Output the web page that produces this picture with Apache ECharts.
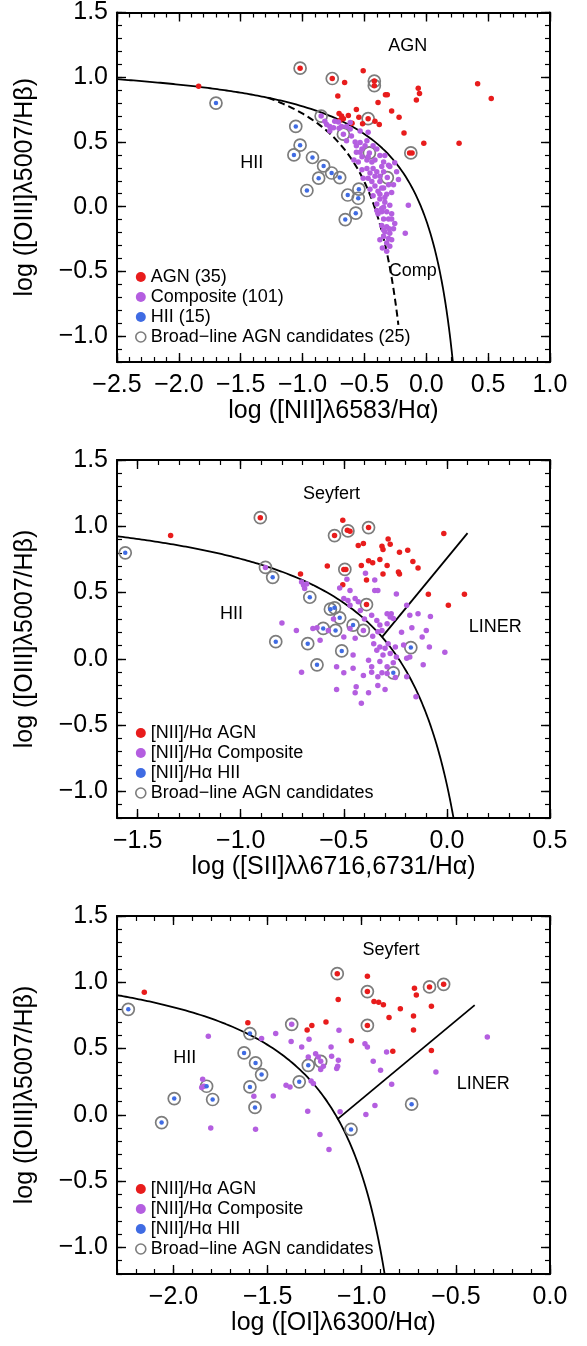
<!DOCTYPE html>
<html>
<head>
<meta charset="utf-8">
<script src="https://cdn.jsdelivr.net/npm/echarts@6/dist/echarts.min.js"></script>
<style>
html, body { margin: 0; padding: 0; background: #fff; }
#chart { width: 587px; height: 1346px; }
</style>
</head>
<body>
<div id="chart"></div>
<script>
// tick labels
const xTicksNII = [-2.5, -2.0, -1.5, -1.0, -0.5, 0.0, 0.5, 1.0]
const xTicksSII = [-1.5, -1.0, -0.5, 0.0, 0.5]
const xTicksOI = [-2.0, -1.5, -1.0, -0.5, 0.0]
const yTicks = [-1.0, -0.5, 0.0, 0.5, 1.0, 1.5]

// demarcation lines: y = a / (x - b) + c  and  y = m x + c
const kewleyNII = [0.61, 0.47, 1.19]
const kauffmannNII = [0.61, 0.05, 1.30]
const kewleySII = [0.72, 0.32, 1.30]
const kewleyOI = [0.73, -0.59, 1.33]
const seyLinerSII = [1.89, 0.76]
const seyLinerOI = [1.18, 1.30]

// ---- panel 1: [NII]/Ha ----
const niiAgn = [[-1.84,0.93],[-1.02,1.07],[-0.76,0.99],[-0.51,1.05],[-0.42,0.97],[-0.42,0.935],[-0.66,0.96],[-0.715,0.855],[-0.33,0.865],[-0.315,0.865],[-0.39,0.805],[-0.565,0.75],[-0.28,0.74],[-0.22,0.69],[-0.705,0.72],[-0.685,0.70],[-0.63,0.705],[-0.67,0.68],[-0.47,0.68],[-0.515,0.64],[-0.415,0.66],[-0.38,0.635],[-0.60,0.645],[-0.18,0.57],[-0.02,0.49],[0.265,0.49],[-0.135,0.415],[-0.115,0.415],[-0.065,0.915],[-0.055,0.875],[-0.08,0.825],[0.415,0.95],[0.525,0.835],[-0.545,0.69],[-0.70,0.665]]
const niiComp = [[-0.85,0.70],[-0.805,0.635],[-0.75,0.61],[-0.71,0.655],[-0.78,0.585],[-0.67,0.56],[-0.705,0.605],[-0.615,0.60],[-0.605,0.545],[-0.645,0.51],[-0.575,0.50],[-0.535,0.495],[-0.495,0.47],[-0.46,0.415],[-0.52,0.445],[-0.48,0.51],[-0.565,0.42],[-0.585,0.36],[-0.55,0.345],[-0.52,0.385],[-0.48,0.36],[-0.415,0.36],[-0.375,0.395],[-0.335,0.395],[-0.255,0.34],[-0.305,0.32],[-0.36,0.31],[-0.43,0.295],[-0.48,0.295],[-0.52,0.285],[-0.455,0.26],[-0.40,0.27],[-0.315,0.225],[-0.225,0.21],[-0.51,0.22],[-0.44,0.195],[-0.375,0.195],[-0.415,0.16],[-0.39,0.12],[-0.345,0.145],[-0.305,0.17],[-0.455,0.135],[-0.32,0.095],[-0.28,0.11],[-0.43,0.085],[-0.375,0.06],[-0.335,0.035],[-0.40,0.02],[-0.145,0.01],[-0.295,0.01],[-0.36,-0.015],[-0.32,-0.04],[-0.28,-0.055],[-0.39,-0.055],[-0.255,-0.13],[-0.345,-0.095],[-0.305,-0.095],[-0.36,-0.145],[-0.32,-0.155],[-0.335,-0.195],[-0.295,-0.205],[-0.17,-0.205],[-0.345,-0.23],[-0.305,-0.245],[-0.32,-0.28],[-0.375,-0.255],[-0.295,-0.305],[-0.36,-0.04],[-0.40,-0.03],[-0.24,0.27],[-0.44,0.345],[-0.47,0.385],[-0.535,0.42],[-0.565,0.47],[-0.645,0.62],[-0.685,0.62],[-0.74,0.66],[-0.82,0.66],[-0.78,0.62],[-0.615,0.65],[-0.535,0.585],[-0.47,0.575],[-0.43,0.47],[-0.40,0.445],[-0.345,0.345],[-0.295,0.31],[-0.375,0.235],[-0.415,0.235],[-0.47,0.22],[-0.345,0.27],[-0.265,0.17],[-0.375,0.095],[-0.36,0.145],[-0.335,0.07],[-0.345,-0.005],[-0.28,-0.095],[-0.265,-0.17],[-0.345,-0.18],[-0.28,-0.255],[-0.32,-0.345],[-0.355,-0.32],[-0.30,-0.17]]
const niiHii = [[-1.70,0.80],[-1.055,0.62],[-1.02,0.475],[-1.07,0.40],[-0.92,0.38],[-0.83,0.315],[-0.87,0.22],[-0.765,0.26],[-0.70,0.225],[-0.965,0.125],[-0.635,0.09],[-0.545,0.135],[-0.55,0.065],[-0.57,-0.05],[-0.655,-0.10]]
const niiBroad = [[-1.70,0.80],[-1.055,0.62],[-1.02,0.475],[-1.07,0.40],[-0.92,0.38],[-0.83,0.315],[-0.87,0.22],[-0.765,0.26],[-0.70,0.225],[-0.965,0.125],[-0.635,0.09],[-0.545,0.135],[-0.55,0.065],[-0.57,-0.05],[-0.655,-0.10],[-1.02,1.07],[-0.76,0.99],[-0.42,0.97],[-0.42,0.935],[-0.47,0.68],[-0.125,0.415],[-0.85,0.70],[-0.67,0.56],[-0.46,0.415],[-0.315,0.225]]

// ---- panel 2: [SII]/Ha ----
const siiAgn = [[-1.34,0.93],[-0.905,1.065],[-0.505,1.045],[-0.545,0.93],[-0.483,0.97],[-0.47,0.962],[-0.38,0.99],[-0.285,0.905],[-0.43,0.855],[-0.405,0.87],[-0.315,0.85],[-0.31,0.825],[-0.275,0.865],[-0.23,0.805],[-0.19,0.82],[-0.015,0.945],[-0.38,0.74],[-0.36,0.725],[-0.325,0.75],[-0.29,0.705],[-0.165,0.735],[-0.14,0.685],[-0.58,0.70],[-0.50,0.675],[-0.49,0.675],[-0.415,0.705],[-0.71,0.64],[-0.235,0.655],[-0.23,0.64],[-0.31,0.64],[-0.39,0.595],[-0.505,0.56],[-0.09,0.487],[0.085,0.487],[0.007,0.405],[-0.39,0.41]]
const siiComp = [[-0.88,0.69],[-0.695,0.555],[-0.69,0.53],[-0.705,0.58],[-0.68,0.565],[-0.485,0.60],[-0.52,0.535],[-0.47,0.515],[-0.395,0.645],[-0.35,0.595],[-0.35,0.515],[-0.335,0.515],[-0.245,0.49],[-0.50,0.455],[-0.48,0.44],[-0.445,0.455],[-0.43,0.43],[-0.47,0.405],[-0.42,0.365],[-0.365,0.33],[-0.34,0.29],[-0.29,0.34],[-0.27,0.34],[-0.275,0.315],[-0.26,0.305],[-0.325,0.255],[-0.315,0.215],[-0.335,0.205],[-0.29,0.265],[-0.195,0.405],[-0.18,0.33],[-0.14,0.34],[-0.08,0.32],[-0.17,0.235],[-0.10,0.215],[-0.12,0.165],[-0.085,0.09],[-0.01,0.05],[-0.80,0.27],[-0.73,0.215],[-0.63,0.235],[-0.615,0.14],[-0.575,0.215],[-0.50,0.165],[-0.47,0.23],[-0.405,0.215],[-0.445,0.155],[-0.455,0.03],[-0.355,0.115],[-0.325,0.09],[-0.30,0.08],[-0.285,0.115],[-0.25,0.09],[-0.34,0.065],[-0.31,0.03],[-0.275,0.04],[-0.245,0.015],[-0.21,0.105],[-0.195,0.005],[-0.18,0.015],[-0.38,-0.01],[-0.365,-0.06],[-0.325,-0.02],[-0.29,-0.06],[-0.315,-0.105],[-0.535,-0.06],[-0.50,-0.105],[-0.455,-0.07],[-0.405,-0.125],[-0.705,-0.10],[-0.365,-0.10],[-0.335,-0.135],[-0.29,-0.11],[-0.44,-0.21],[-0.38,-0.255],[-0.335,-0.20],[-0.30,-0.23],[-0.535,-0.23],[-0.445,-0.255],[-0.415,-0.335],[-0.25,-0.14],[-0.195,-0.135],[-0.15,-0.285],[-0.115,-0.045],[-0.65,0.23],[-0.55,0.30],[-0.40,0.30],[-0.22,0.20],[-0.26,-0.03],[-0.36,0.17]]
const siiHii = [[-1.56,0.80],[-0.845,0.615],[-0.665,0.465],[-0.545,0.385],[-0.565,0.375],[-0.52,0.31],[-0.455,0.255],[-0.60,0.23],[-0.54,0.215],[-0.83,0.13],[-0.675,0.115],[-0.51,0.06],[-0.63,-0.045],[-0.175,0.085],[-0.26,-0.105]]
const siiBroad = [[-1.56,0.80],[-0.845,0.615],[-0.665,0.465],[-0.545,0.385],[-0.565,0.375],[-0.52,0.31],[-0.455,0.255],[-0.60,0.23],[-0.54,0.215],[-0.83,0.13],[-0.675,0.115],[-0.51,0.06],[-0.63,-0.045],[-0.175,0.085],[-0.26,-0.105],[-0.905,1.065],[-0.545,0.93],[-0.48,0.965],[-0.38,0.99],[-0.495,0.675],[-0.39,0.41],[-0.88,0.69],[-0.405,0.215]]

// ---- panel 3: [OI]/Ha ----
const oiAgn = [[-2.155,0.925],[-1.605,0.695],[-1.13,1.065],[-0.97,1.045],[-0.97,0.93],[-1.125,0.87],[-0.72,0.955],[-0.71,0.905],[-0.64,0.965],[-0.565,0.985],[-0.935,0.855],[-0.91,0.85],[-0.885,0.83],[-0.795,0.80],[-0.63,0.82],[-0.855,0.735],[-0.725,0.745],[-0.97,0.675],[-1.19,0.70],[-1.265,0.675],[-1.29,0.64],[-0.725,0.64],[-1.055,0.56],[-0.835,0.48],[-0.63,0.485]]
const oiComp = [[-1.372,0.683],[-1.815,0.593],[-1.532,0.577],[-1.457,0.614],[-1.375,0.553],[-1.319,0.512],[-1.28,0.57],[-1.245,0.462],[-1.231,0.437],[-1.218,0.404],[-1.163,0.512],[-1.16,0.442],[-1.124,0.412],[-1.133,0.349],[-1.128,0.367],[-1.218,0.342],[-1.121,0.638],[-0.983,0.537],[-0.97,0.512],[-0.939,0.404],[-0.90,0.337],[-0.868,0.475],[-0.841,0.231],[-0.606,0.324],[-0.333,0.588],[-0.93,0.071],[-0.978,0.003],[-1.115,0.023],[-1.222,-0.148],[-1.174,-0.261],[-1.287,0.028],[-1.269,0.256],[-1.402,0.224],[-1.381,0.211],[-1.47,0.143],[-1.573,0.141],[-1.564,-0.108],[-1.802,-0.098],[-1.845,0.269],[-1.85,0.206],[-1.838,0.216],[-1.284,0.437],[-1.257,0.236],[-1.204,0.367]]
const oiHii = [[-2.24,0.796],[-1.594,0.613],[-1.625,0.467],[-1.564,0.392],[-1.532,0.304],[-1.284,0.374],[-1.332,0.249],[-1.824,0.216],[-1.594,0.211],[-1.996,0.123],[-1.792,0.116],[-1.567,0.056],[-2.063,-0.058],[-0.735,0.081],[-1.057,-0.11]]
const oiBroad = [[-2.24,0.796],[-1.594,0.613],[-1.625,0.467],[-1.564,0.392],[-1.532,0.304],[-1.284,0.374],[-1.332,0.249],[-1.824,0.216],[-1.594,0.211],[-1.996,0.123],[-1.792,0.116],[-1.567,0.056],[-2.063,-0.058],[-0.735,0.081],[-1.057,-0.11],[-1.13,1.065],[-0.97,0.93],[-0.64,0.965],[-0.565,0.985],[-0.97,0.675],[-1.372,0.683],[-1.218,0.404]]

// region names
const niiRegions = [['AGN', -0.15, 1.24], ['HII', -1.41, 0.34], ['Comp', -0.11, -0.50]]
const siiRegions = [['Seyfert', -0.56, 1.245], ['HII', -1.045, 0.34], ['LINER', 0.235, 0.24]]
const oiRegions = [['Seyfert', -0.845, 1.24], ['HII', -1.94, 0.43], ['LINER', -0.355, 0.23]]

const niiNames = ['AGN (35)', 'Composite (101)', 'HII (15)', 'Broad\u2212line AGN candidates (25)']
const bptNames = ['[NII]/Hα AGN', '[NII]/Hα Composite', '[NII]/Hα HII', 'Broad\u2212line AGN candidates']

const RED = '#e81c1c'
const PURPLE = '#b45ee0'
const BLUE = '#3f6be3'
const RING = '#7c7c7c'
const FONT = "'Liberation Sans', Arial, Helvetica, sans-serif"

function hyperbola(coef, x0, x1) {
  const [a, b, c] = coef
  const pts = []
  const n = 240
  for (let i = 0; i <= n; i++) {
    const t = i / n
    const x = x0 + (x1 - x0) * (1 - (1 - t) * (1 - t))
    pts.push([x, a / (x - b) + c])
  }
  return pts
}
function straight(coef, x0, x1) {
  const [m, c] = coef
  return [[x0, m * x0 + c], [x1, m * x1 + c]]
}
// x where the hyperbola reaches ymin
function bottomX(coef, ymin) {
  const [a, b, c] = coef
  return a / (ymin - c) + b
}

const fmt = v => (v < -1e-9 ? '\u2212' : '') + Math.abs(v).toFixed(1)

const Y_MIN = -1.2
const Y_MAX = 1.5
const panels = [
  { top: 4, xr: [-2.5, 1.0], xTicks: xTicksNII, xName: 'log ([NII]λ6583/Hα)' },
  { top: 460, xr: [-1.6, 0.5], xTicks: xTicksSII, xName: 'log ([SII]λλ6716,6731/Hα)' },
  { top: 916, xr: [-2.3, 0.0], xTicks: xTicksOI, xName: 'log ([OI]λ6300/Hα)' }
]

const grid = []
const xAxis = []
const yAxis = []

function major(g, min, max, pos, ticks, labels) {
  return {
    type: 'value', gridIndex: g, min: min, max: max, position: pos,
    axisLine: { show: true, onZero: false, lineStyle: { color: '#000', width: 2 } },
    axisTick: { show: true, inside: true, length: 9, customValues: ticks, lineStyle: { color: '#000', width: 1.4 } },
    axisLabel: labels ? { show: true, customValues: ticks, formatter: fmt, fontSize: 25, color: '#000', fontFamily: FONT, margin: pos === 'bottom' ? 11 : 9 } : { show: false },
    splitLine: { show: false }
  }
}
function minor(g, min, max, pos) {
  return {
    type: 'value', gridIndex: g, min: min, max: max, position: pos, interval: 0.1,
    axisLine: { show: false, onZero: false },
    axisTick: { show: true, inside: true, length: 5, lineStyle: { color: '#000', width: 1.2 } },
    axisLabel: { show: false },
    splitLine: { show: false }
  }
}

panels.forEach((p, g) => {
  grid.push({ left: 117, top: p.top, width: 433, height: 358 })
  const xb = major(g, p.xr[0], p.xr[1], 'bottom', p.xTicks, true)
  xb.name = p.xName
  xb.nameLocation = 'middle'
  xb.nameGap = 36
  xb.nameTextStyle = { fontSize: 25, color: '#000', fontFamily: FONT }
  xAxis.push(xb, minor(g, p.xr[0], p.xr[1], 'bottom'),
    major(g, p.xr[0], p.xr[1], 'top', p.xTicks, false), minor(g, p.xr[0], p.xr[1], 'top'))
  const yl = major(g, Y_MIN, Y_MAX, 'left', yTicks, true)
  yl.name = 'log ([OIII]λ5007/Hβ)'
  yl.nameLocation = 'middle'
  yl.nameRotate = 90
  yl.nameGap = 79
  yl.nameTextStyle = { fontSize: 25, color: '#000', fontFamily: FONT }
  yAxis.push(yl, minor(g, Y_MIN, Y_MAX, 'left'),
    major(g, Y_MIN, Y_MAX, 'right', yTicks, false), minor(g, Y_MIN, Y_MAX, 'right'))
})

const series = []
function dots(g, name, data, color, size) {
  series.push({
    type: 'scatter', name: name, xAxisIndex: 4 * g, yAxisIndex: 4 * g, data: data,
    symbol: 'circle', symbolSize: size, itemStyle: { color: color, opacity: 1 }, z: 4, silent: true
  })
}
function rings(g, name, data) {
  series.push({
    type: 'scatter', name: name, xAxisIndex: 4 * g, yAxisIndex: 4 * g, data: data,
    symbol: 'circle', symbolSize: 12,
    itemStyle: { color: 'rgba(255,255,255,0)', borderColor: RING, borderWidth: 1.7, opacity: 1 }, z: 3, silent: true
  })
}
function curve(g, data, dashed) {
  series.push({
    type: 'line', xAxisIndex: 4 * g, yAxisIndex: 4 * g, data: data, showSymbol: false, symbol: 'none',
    lineStyle: { color: '#000', width: dashed ? 2 : 1.8, type: dashed ? [7, 4] : 'solid' }, z: 2, silent: true, clip: true
  })
}
function regions(g, list) {
  series.push({
    type: 'scatter', xAxisIndex: 4 * g, yAxisIndex: 4 * g, symbolSize: 0, silent: true, z: 5,
    itemStyle: { opacity: 1 },
    data: list.map(r => ({ name: r[0], value: [r[1], r[2]] })),
    label: { show: true, position: 'inside', formatter: '{b}', fontSize: 18, color: '#000', opacity: 1, fontFamily: FONT }
  })
}

// panel 1
curve(0, hyperbola(kewleyNII, -2.5, bottomX(kewleyNII, Y_MIN)), false)
curve(0, hyperbola(kauffmannNII, -1.28, -0.225), true)
rings(0, niiNames[3], niiBroad)
dots(0, niiNames[0], niiAgn, RED, 5.5)
dots(0, niiNames[1], niiComp, PURPLE, 5.5)
dots(0, niiNames[2], niiHii, BLUE, 4.5)
regions(0, niiRegions)

// panel 2
curve(1, hyperbola(kewleySII, -1.6, bottomX(kewleySII, Y_MIN)), false)
curve(1, straight(seyLinerSII, -0.315, 0.10), false)
rings(1, bptNames[3], siiBroad)
dots(1, bptNames[0], siiAgn, RED, 5.5)
dots(1, bptNames[1], siiComp, PURPLE, 5.5)
dots(1, bptNames[2], siiHii, BLUE, 4.5)
regions(1, siiRegions)

// panel 3
curve(2, hyperbola(kewleyOI, -2.3, bottomX(kewleyOI, Y_MIN)), false)
curve(2, straight(seyLinerOI, -1.13, -0.40), false)
rings(2, bptNames[3], oiBroad)
dots(2, bptNames[0], oiAgn, RED, 5.5)
dots(2, bptNames[1], oiComp, PURPLE, 5.5)
dots(2, bptNames[2], oiHii, BLUE, 4.5)
regions(2, oiRegions)

function legendFor(top, names) {
  return {
    top: top, left: 135, orient: 'vertical', padding: 0, itemGap: 2,
    itemWidth: 10, itemHeight: 10, selectedMode: false,
    textStyle: { fontSize: 18, color: '#000', fontFamily: FONT },
    data: names.map((n, i) => i < 3
      ? { name: n, icon: 'circle', itemStyle: { color: [RED, PURPLE, BLUE][i], borderWidth: 0 } }
      : { name: n, icon: 'circle', itemStyle: { color: 'rgba(255,255,255,0)', borderColor: RING, borderWidth: 1.6 } })
  }
}

const chart = echarts.init(document.getElementById('chart'), null, { renderer: 'canvas' })
chart.setOption({
  animation: false,
  backgroundColor: '#fff',
  grid: grid,
  xAxis: xAxis,
  yAxis: yAxis,
  legend: [legendFor(4 + 264, niiNames), legendFor(460 + 264, bptNames), legendFor(916 + 264, bptNames)],
  series: series
})
</script>
</body>
</html>
